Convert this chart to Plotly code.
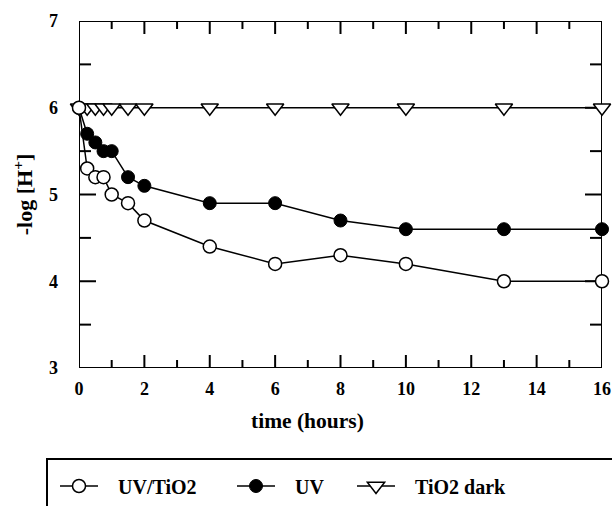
import plotly.graph_objects as go

# ---- data ----
time_uvtio2 = [0, 0.25, 0.5, 0.75, 1, 1.5, 2, 4, 6, 8, 10, 13, 16]
ph_uvtio2 = [6.0, 5.3, 5.2, 5.2, 5.0, 4.9, 4.7, 4.4, 4.2, 4.3, 4.2, 4.0, 4.0]

time_uv = [0, 0.25, 0.5, 0.75, 1, 1.5, 2, 4, 6, 8, 10, 13, 16]
ph_uv = [6.0, 5.7, 5.6, 5.5, 5.5, 5.2, 5.1, 4.9, 4.9, 4.7, 4.6, 4.6, 4.6]

time_dark = [0, 0.25, 0.5, 0.75, 1, 1.5, 2, 4, 6, 8, 10, 13, 16]
ph_dark = [6.0, 6.0, 6.0, 6.0, 6.0, 6.0, 6.0, 6.0, 6.0, 6.0, 6.0, 6.0, 6.0]

x_range = [0, 16]
y_range = [3, 7]
x_major = [0, 2, 4, 6, 8, 10, 12, 14, 16]
x_minor = [1, 3, 5, 7, 9, 11, 13, 15]
y_major = [3, 4, 5, 6, 7]
y_minor = [3.5, 4.5, 5.5, 6.5]

FONT = "Liberation Serif"
W, H = 612, 506
L, R, T, B = 79, 10, 21, 138
PW = W - L - R
PH = H - T - B
UX = (x_range[1] - x_range[0]) / PW   # data units per pixel, x
UY = (y_range[1] - y_range[0]) / PH   # data units per pixel, y


def px_x(p):
    return (p - L) / PW


def px_y(p):
    return (H - B - p) / PH


# frame + inward ticks (mirrored), as one line trace built from the axis ranges / tick lists
x0, x1 = x_range
y0, y1 = y_range
fx = [x0, x1, x1, x0, x0, None]
fy = [y0, y0, y1, y1, y0, None]
for vals, ln in ((x_major, 13), (x_minor, 8)):
    for v in vals:
        fx += [v, v, None, v, v, None]
        fy += [y0, y0 + ln * UY, None, y1, y1 - ln * UY, None]
for vals, ln in ((y_major, 17), (y_minor, 12)):
    for v in vals:
        fx += [x0, x0 + ln * UX, None, x1, x1 - ln * UX, None]
        fy += [v, v, None, v, v, None]

SP = "&nbsp;&nbsp;&nbsp;"

fig = go.Figure()
fig.add_trace(go.Scatter(
    x=fx, y=fy, mode="lines", line=dict(color="black", width=2),
    showlegend=False, hoverinfo="skip", cliponaxis=False, connectgaps=False))
fig.add_trace(go.Scatter(
    x=time_dark, y=ph_dark, name=SP + "TiO2 dark", mode="lines+markers",
    line=dict(color="black", width=1.5),
    marker=dict(symbol="triangle-down", size=15, color="white",
                line=dict(color="black", width=1.5)),
    cliponaxis=False, legend="legend3"))
fig.add_trace(go.Scatter(
    x=time_uv, y=ph_uv, name=SP + "UV", mode="lines+markers",
    line=dict(color="black", width=1.5),
    marker=dict(symbol="circle", size=13, color="black",
                line=dict(color="black", width=1)),
    cliponaxis=False, legend="legend2"))
fig.add_trace(go.Scatter(
    x=time_uvtio2, y=ph_uvtio2, name=SP + "UV/TiO2", mode="lines+markers",
    line=dict(color="black", width=1.5),
    marker=dict(symbol="circle", size=13, color="white",
                line=dict(color="black", width=1.5)),
    cliponaxis=False, legend="legend"))

axis_font = dict(family=FONT, size=18, color="black", weight="bold")
fig.update_layout(
    xaxis=dict(
        range=x_range, tickmode="array", tickvals=x_major,
        showline=False, ticks="", tickfont=axis_font, ticklabelstandoff=8,
        automargin=False, showgrid=False, zeroline=False),
    yaxis=dict(
        range=y_range, tickmode="array", tickvals=y_major,
        showline=False, ticks="", tickfont=axis_font, ticklabelstandoff=20,
        automargin=False,
        title=dict(text="-log [H<sup>+</sup>]",
                   font=dict(family=FONT, size=22, color="black", weight="bold"),
                   standoff=10),
        showgrid=False, zeroline=False),
)

leg_common = dict(orientation="h", xref="container", yref="container",
                  yanchor="middle", y=1 - 486 / H, xanchor="left",
                  font=dict(family=FONT, size=20, color="black", weight="bold"),
                  bgcolor="rgba(0,0,0,0)", borderwidth=0, itemwidth=38)

fig.update_layout(
    width=W, height=H,
    margin=dict(l=L, r=R, t=T, b=B, autoexpand=False),
    paper_bgcolor="white", plot_bgcolor="white",
    showlegend=True,
    legend=dict(x=55 / W, **leg_common),
    legend2=dict(x=232 / W, **leg_common),
    legend3=dict(x=352 / W, **leg_common),
    shapes=[dict(type="rect", xref="paper", yref="paper",
                 x0=px_x(47), x1=px_x(640), y0=px_y(540), y1=px_y(459),
                 line=dict(color="black", width=2), fillcolor="rgba(0,0,0,0)")],
    annotations=[dict(text="time (hours)", xref="paper", yref="paper",
                      x=px_x(307), y=px_y(421), xanchor="center", yanchor="middle",
                      showarrow=False,
                      font=dict(family=FONT, size=21.5, color="black", weight="bold"))],
)

fig.write_html("out.html")
